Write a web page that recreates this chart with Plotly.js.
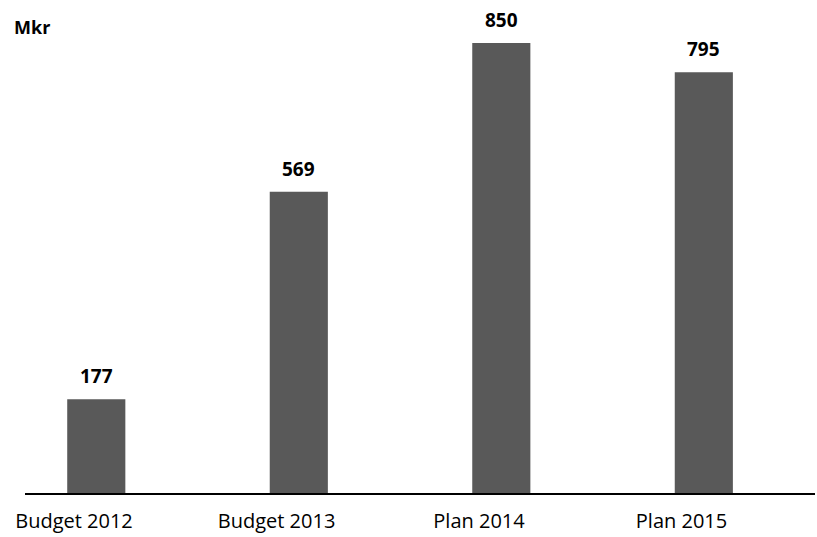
<!DOCTYPE html>
<html><head><meta charset="utf-8">
<script src="https://cdn.plot.ly/plotly-3.0.1.min.js"></script>
<style>body{margin:0;padding:0;background:#fff}#chart{width:817px;height:537px}</style>
</head><body><div id="chart"></div>
<script>
var categories = ["Budget 2012", "Budget 2013", "Plan 2014", "Plan 2015"];
var values = [177, 569, 850, 795];
var unitLabel = "Mkr";

var idx = categories.map(function(c, i){ return i; });
var barWidth = 0.287;
var shift = 0.11;

var trace = {
  type: "bar",
  x: idx,
  y: values,
  width: barWidth,
  offset: shift - barWidth / 2,
  marker: {color: "#595959"},
  hoverinfo: "x+y"
};

var annotations = idx.map(function(i){
  return {
    x: i + shift, y: values[i], xref: "x", yref: "y",
    text: "<b>" + values[i] + "</b>", showarrow: false,
    yshift: 23, font: {family: "Open Sans, sans-serif", size: 19, color: "#000"}
  };
});
annotations.push({
  xref: "paper", yref: "paper", x: -0.017, y: 0.985, xanchor: "left", yanchor: "middle",
  text: "<b>" + unitLabel + "</b>", showarrow: false,
  font: {family: "Open Sans, sans-serif", size: 18, color: "#000"}
});

var layout = {
  width: 817, height: 537,
  margin: {l: 25, r: 2, t: 20, b: 44},
  paper_bgcolor: "#fff", plot_bgcolor: "#fff",
  showlegend: false,
  xaxis: {
    range: [-0.242, 3.659],
    tickvals: idx, ticktext: categories,
    showline: true, linecolor: "#000", linewidth: 2,
    showgrid: false, zeroline: false, ticks: "",
    ticklabelstandoff: 9,
    tickfont: {family: "Open Sans, sans-serif", size: 20, color: "#000"}
  },
  yaxis: {
    range: [0, 893.5], visible: false, showgrid: false, zeroline: false
  },
  annotations: annotations
};

Plotly.newPlot("chart", [trace], layout, {displayModeBar: false, staticPlot: true});
</script></body></html>
